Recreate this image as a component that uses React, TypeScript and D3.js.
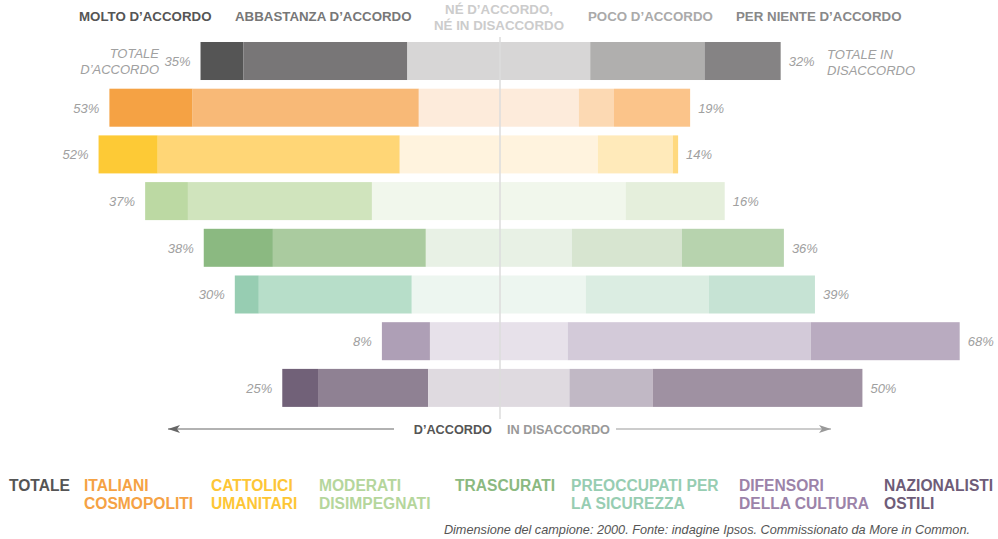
import React from "react";
import * as d3 from "d3";

const groups = ["TOTALE", "ITALIANI COSMOPOLITI", "CATTOLICI UMANITARI", "MODERATI DISIMPEGNATI", "TRASCURATI", "PREOCCUPATI PER LA SICUREZZA", "DIFENSORI DELLA CULTURA", "NAZIONALISTI OSTILI"];
const molto = [7.3, 14.2, 10.1, 7.3, 11.8, 4.1, 0, 6.1];
const abbastanza = [28.0, 38.6, 41.3, 31.4, 26.1, 26.1, 8.2, 18.8];
const neutrale = [31.2, 27.3, 33.8, 43.3, 24.9, 29.7, 23.5, 24.1];
const poco = [19.5, 6.0, 12.8, 16.9, 18.8, 21.0, 41.5, 14.2];
const perNiente = [13.0, 13.0, 0.9, 0, 17.4, 18.1, 25.4, 35.8];
const agreeLabels = ["35%", "53%", "52%", "37%", "38%", "30%", "8%", "25%"];
const disagreeLabels = ["32%", "19%", "14%", "16%", "36%", "39%", "68%", "50%"];

const palettes = [
  ["#555555", "#787677", "#d7d6d6", "#b0afae", "#858384"],
  ["#f5a244", "#f8b977", "#fdebdb", "#fcd9b3", "#fbc48a"],
  ["#fdca36", "#ffd676", "#fff3de", "#ffeaba", "#ffd97f"],
  ["#bcd9a3", "#d0e4bd", "#f1f7ec", "#e5efdc", "#d0e4bd"],
  ["#8bb981", "#aacb9f", "#e8f1e5", "#d7e5d0", "#b7d3ae"],
  ["#97cdb2", "#b7dec9", "#edf6f0", "#dbede2", "#c6e3d4"],
  ["#ae9fb6", "#ae9fb6", "#e7e1ea", "#d3cad9", "#b9abc0"],
  ["#716178", "#8f8193", "#dfdae0", "#c1b8c5", "#9f91a2"],
];

const legendLines = [
  ["TOTALE"], ["ITALIANI", "COSMOPOLITI"], ["CATTOLICI", "UMANITARI"], ["MODERATI", "DISIMPEGNATI"],
  ["TRASCURATI"], ["PREOCCUPATI PER", "LA SICUREZZA"], ["DIFENSORI", "DELLA CULTURA"], ["NAZIONALISTI", "OSTILI"],
];
const legendColors = ["#555555", "#f5a244", "#fdc636", "#b5d69c", "#8bb981", "#97cdb2", "#9c83a9", "#6e5c78"];
const legendX = [9, 84, 211, 319, 455, 571, 739, 884];

const headers = [
  { lines: ["MOLTO D’ACCORDO"], x: 79, anchor: "start", color: "#555555" },
  { lines: ["ABBASTANZA D’ACCORDO"], x: 235, anchor: "start", color: "#777777" },
  { lines: ["NÉ D’ACCORDO,", "NÉ IN DISACCORDO"], x: 499, anchor: "middle", color: "#cccccc" },
  { lines: ["POCO D’ACCORDO"], x: 588, anchor: "start", color: "#aaaaaa" },
  { lines: ["PER NIENTE D’ACCORDO"], x: 736, anchor: "start", color: "#888888" },
];

const FONT = "'Liberation Sans', Arial, Helvetica, sans-serif";

export default function App() {
  const W = 998, H = 539;
  const k = 5.86;
  const cx = 498.8;
  const x = d3.scaleLinear().domain([-50, 50]).range([cx - 50 * k, cx + 50 * k]);
  const y = d3.scaleBand<number>().domain(d3.range(groups.length)).range([42, 406.9]).paddingInner(0.186).paddingOuter(0);

  const rows = groups.map((g, i) => {
    const n2 = neutrale[i] / 2;
    const edges = [
      -(n2 + abbastanza[i] + molto[i]),
      -(n2 + abbastanza[i]),
      -n2,
      n2,
      n2 + poco[i],
      n2 + poco[i] + perNiente[i],
    ];
    const segs = d3.range(5).map((s) => ({ x0: edges[s], x1: edges[s + 1], color: palettes[i][s] }));
    return { g, i, edges, segs };
  });

  const italic = { fontFamily: FONT, fontStyle: "italic", fill: "#a0a0a0", fontSize: 13 } as const;

  return (
    <svg width={W} height={H} style={{ position: "absolute", left: 0, top: 0 }}>
      <defs>
        <marker id="ahL" viewBox="0 0 12 10" refX="12" refY="5" markerWidth="12" markerHeight="10" markerUnits="userSpaceOnUse" orient="auto">
          <path d="M0,1 L12,5 L0,9 L3,5 Z" fill="#666666" />
        </marker>
        <marker id="ahR" viewBox="0 0 12 10" refX="12" refY="5" markerWidth="12" markerHeight="10" markerUnits="userSpaceOnUse" orient="auto">
          <path d="M0,1 L12,5 L0,9 L3,5 Z" fill="#999999" />
        </marker>
      </defs>
      {headers.map((h, j) => (
        <text key={j} x={h.x} textAnchor={h.anchor as any} fontFamily={FONT} fontWeight="bold" fontSize={13.3} fill={h.color}>
          {h.lines.length === 1 ? (
            <tspan x={h.x} y={21}>{h.lines[0]}</tspan>
          ) : (
            h.lines.map((l, m) => <tspan key={m} x={h.x} y={14 + m * 16}>{l}</tspan>)
          )}
        </text>
      ))}

      {rows.map((r) => (
        <g key={r.i}>
          {r.segs.filter((s) => s.x1 - s.x0 > 0).map((s, j) => (
            <rect key={j} x={x(s.x0)} y={y(r.i)!} width={x(s.x1) - x(s.x0)} height={y.bandwidth()} fill={s.color} />
          ))}
          <text x={x(r.edges[0]) - 10} y={y(r.i)! + y.bandwidth() / 2 + 5} textAnchor="end" {...italic}>{agreeLabels[r.i]}</text>
          <text x={x(r.edges[5]) + 8} y={y(r.i)! + y.bandwidth() / 2 + 5} textAnchor="start" {...italic}>{disagreeLabels[r.i]}</text>
        </g>
      ))}

      <text textAnchor="end" {...italic}>
        <tspan x={159} y={58}>TOTALE</tspan>
        <tspan x={159} y={74}>D’ACCORDO</tspan>
      </text>
      <text textAnchor="start" {...italic}>
        <tspan x={827} y={59}>TOTALE IN</tspan>
        <tspan x={827} y={75}>DISACCORDO</tspan>
      </text>

      <line x1={x(0) + 1.2} x2={x(0) + 1.2} y1={37} y2={419} stroke="#dcdcdc" strokeWidth={1.5} />

      <line x1={394} x2={168} y1={429} y2={429} stroke="#666666" strokeWidth={1.2} markerEnd="url(#ahL)" />
      <line x1={616} x2={831} y1={429} y2={429} stroke="#999999" strokeWidth={1.2} markerEnd="url(#ahR)" />
      <text x={492} y={433.5} textAnchor="end" fontFamily={FONT} fontWeight="bold" fontSize={12.7} fill="#555555">D’ACCORDO</text>
      <text x={507} y={433.5} textAnchor="start" fontFamily={FONT} fontWeight="bold" fontSize={12.7} fill="#999999">IN DISACCORDO</text>

      {legendLines.map((ls, i) => (
        <text key={i} fontFamily={FONT} fontWeight="bold" fontSize={15.6} fill={legendColors[i]}>
          {ls.map((l, m) => <tspan key={m} x={legendX[i]} y={491 + m * 18}>{l}</tspan>)}
        </text>
      ))}

      <text x={970} y={534} textAnchor="end" fontFamily={FONT} fontStyle="italic" fontSize={12.7} fill="#555555">
        Dimensione del campione: 2000. Fonte: indagine Ipsos. Commissionato da More in Common.
      </text>
    </svg>
  );
}
